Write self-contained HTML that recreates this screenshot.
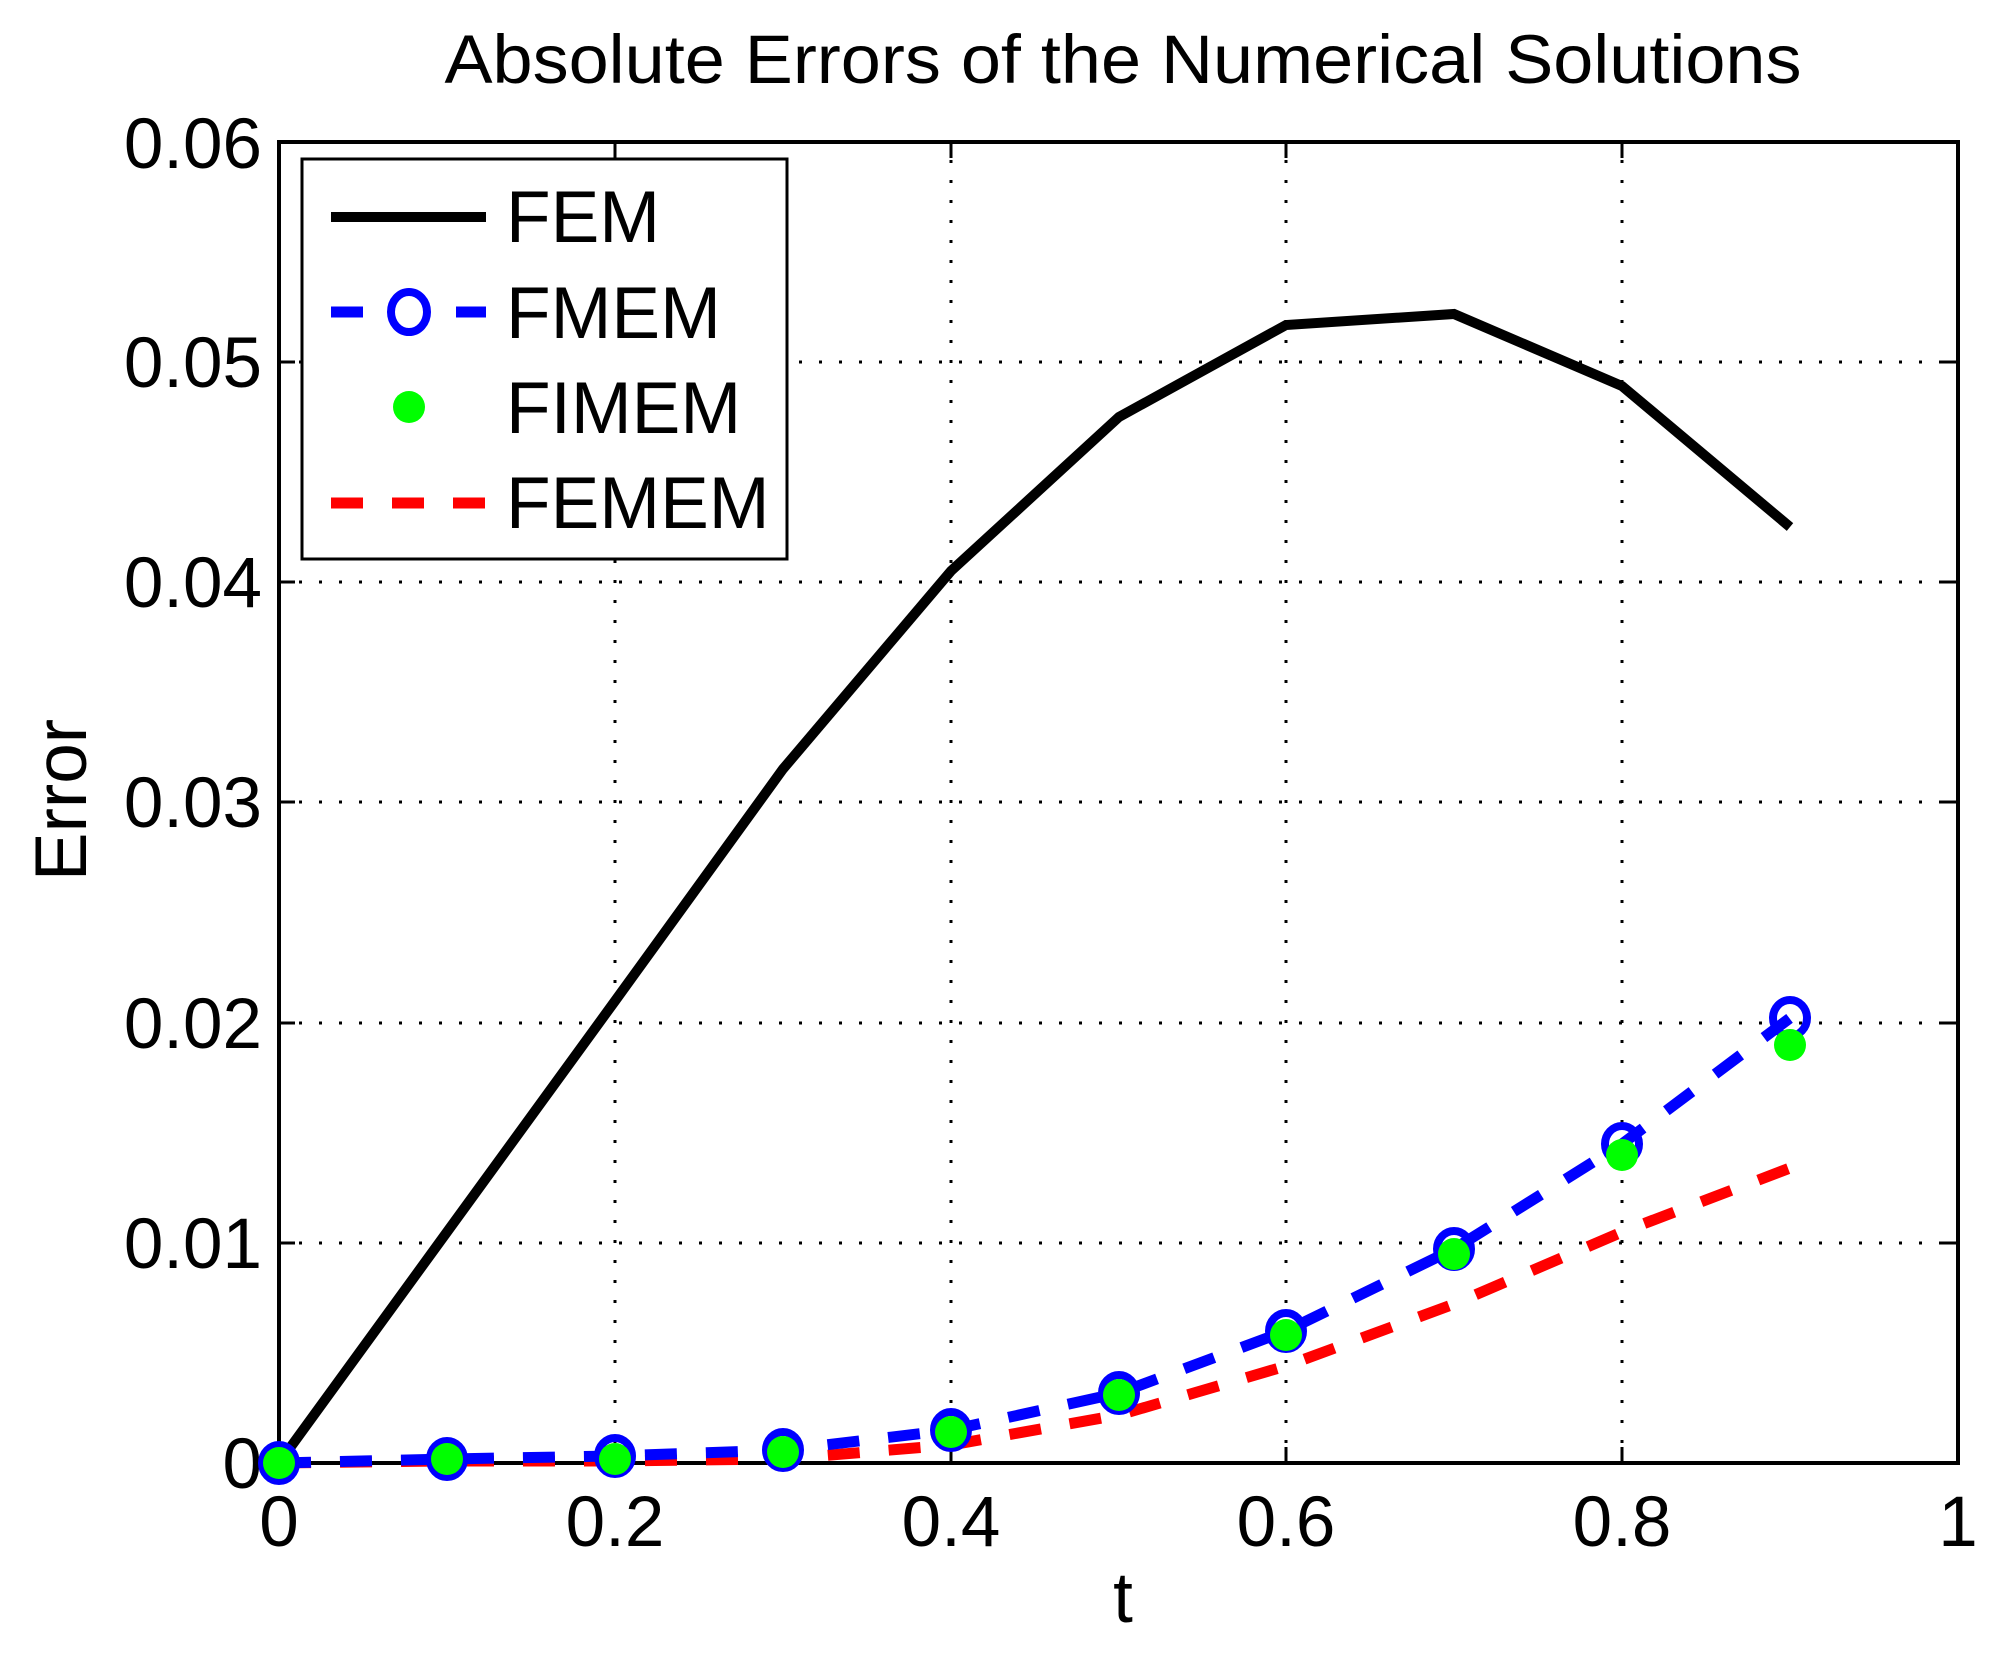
<!DOCTYPE html>
<html><head><style>html,body{margin:0;padding:0;background:#fff}svg{display:block}</style></head>
<body>
<svg width="2007" height="1668" xmlns="http://www.w3.org/2000/svg" font-family="'Liberation Sans', sans-serif">
<rect width="2007" height="1668" fill="#fff"/>
<text x="1123" y="83" font-size="69" text-anchor="middle" textLength="1357" lengthAdjust="spacingAndGlyphs">Absolute Errors of the Numerical Solutions</text>
<!-- grid -->
<g stroke="#000" stroke-width="3" stroke-dasharray="3,17" fill="none">
<line x1="615" y1="1463" x2="615" y2="142"/>
<line x1="951" y1="1463" x2="951" y2="142"/>
<line x1="1286" y1="1463" x2="1286" y2="142"/>
<line x1="1622" y1="1463" x2="1622" y2="142"/>
<line x1="279" y1="1243" x2="1958" y2="1243"/>
<line x1="279" y1="1023" x2="1958" y2="1023"/>
<line x1="279" y1="802" x2="1958" y2="802"/>
<line x1="279" y1="582" x2="1958" y2="582"/>
<line x1="279" y1="362" x2="1958" y2="362"/>
</g>
<!-- ticks -->
<g stroke="#000" stroke-width="3">
<line x1="615" y1="1463" x2="615" y2="1447"/><line x1="951" y1="1463" x2="951" y2="1447"/><line x1="1286" y1="1463" x2="1286" y2="1447"/><line x1="1622" y1="1463" x2="1622" y2="1447"/>
<line x1="615" y1="142" x2="615" y2="158"/><line x1="951" y1="142" x2="951" y2="158"/><line x1="1286" y1="142" x2="1286" y2="158"/><line x1="1622" y1="142" x2="1622" y2="158"/>
<line x1="279" y1="1243" x2="295" y2="1243"/><line x1="279" y1="1023" x2="295" y2="1023"/><line x1="279" y1="802" x2="295" y2="802"/><line x1="279" y1="582" x2="295" y2="582"/><line x1="279" y1="362" x2="295" y2="362"/>
<line x1="1958" y1="1243" x2="1942" y2="1243"/><line x1="1958" y1="1023" x2="1942" y2="1023"/><line x1="1958" y1="802" x2="1942" y2="802"/><line x1="1958" y1="582" x2="1942" y2="582"/><line x1="1958" y1="362" x2="1942" y2="362"/>
</g>
<rect x="279" y="142" width="1679" height="1321" fill="none" stroke="#000" stroke-width="4"/>
<!-- tick labels -->
<g font-size="71" text-anchor="end">
<text x="262" y="1488">0</text><text x="262" y="1268">0.01</text><text x="262" y="1048">0.02</text><text x="262" y="827">0.03</text><text x="262" y="607">0.04</text><text x="262" y="387">0.05</text><text x="262" y="168">0.06</text>
</g>
<g font-size="71" text-anchor="middle">
<text x="279" y="1546">0</text><text x="615" y="1546">0.2</text><text x="951" y="1546">0.4</text><text x="1286" y="1546">0.6</text><text x="1622" y="1546">0.8</text><text x="1958" y="1546">1</text>
</g>
<text x="1123" y="1622" font-size="71" text-anchor="middle">t</text>
<text transform="translate(86,800) rotate(-90)" font-size="73" text-anchor="middle">Error</text>
<!-- series -->
<polyline fill="none" stroke="#000" stroke-width="10" stroke-linejoin="miter" points="279,1463 447,1232 615,1001 783,769 951,571 1119,417 1286,325 1454,314 1622,386 1790,527"/>
<polyline fill="none" stroke="#f00" stroke-width="11" stroke-dasharray="32,29" points="279,1463 447,1461 615,1461 783,1459 951,1445 1119,1415 1286,1366 1454,1304 1622,1232 1790,1168"/>
<polyline fill="none" stroke="#00f" stroke-width="11" stroke-dasharray="32,29" points="279,1463 447,1459 615,1456 783,1450 951,1430 1119,1393 1286,1331 1454,1249 1622,1144 1790,1018"/>
<g fill="none" stroke="#00f" stroke-width="8">
<ellipse cx="279" cy="1463" rx="17" ry="18"/><ellipse cx="447" cy="1459" rx="17" ry="18"/><ellipse cx="615" cy="1456" rx="17" ry="18"/><ellipse cx="783" cy="1450" rx="17" ry="18"/><ellipse cx="951" cy="1430" rx="17" ry="18"/><ellipse cx="1119" cy="1393" rx="17" ry="18"/><ellipse cx="1286" cy="1331" rx="17" ry="18"/><ellipse cx="1454" cy="1249" rx="17" ry="18"/><ellipse cx="1622" cy="1144" rx="17" ry="18"/><ellipse cx="1790" cy="1018" rx="17" ry="18"/>
</g>
<g fill="#0f0">
<circle cx="279" cy="1463" r="16"/><circle cx="447" cy="1459" r="16"/><circle cx="615" cy="1459" r="16"/><circle cx="783" cy="1452" r="16"/><circle cx="951" cy="1432" r="16"/><circle cx="1119" cy="1395" r="16"/><circle cx="1286" cy="1335" r="16"/><circle cx="1454" cy="1254" r="16"/><circle cx="1622" cy="1155" r="16"/><circle cx="1790" cy="1045" r="16"/>
</g>
<!-- legend -->
<rect x="302" y="159" width="485" height="400" fill="#fff" stroke="#000" stroke-width="3"/>
<line x1="331" y1="217" x2="486" y2="217" stroke="#000" stroke-width="10"/>
<line x1="331" y1="312" x2="486" y2="312" stroke="#00f" stroke-width="11" stroke-dasharray="32,93"/>
<ellipse cx="409" cy="312" rx="18" ry="20" fill="none" stroke="#00f" stroke-width="8"/>
<circle cx="409" cy="407" r="16" fill="#0f0"/>
<line x1="331" y1="503" x2="486" y2="503" stroke="#f00" stroke-width="11" stroke-dasharray="32,29"/>
<g font-size="73">
<text x="506" y="242">FEM</text><text x="506" y="338">FMEM</text><text x="506" y="433">FIMEM</text><text x="506" y="528">FEMEM</text>
</g>
</svg>
</body></html>
